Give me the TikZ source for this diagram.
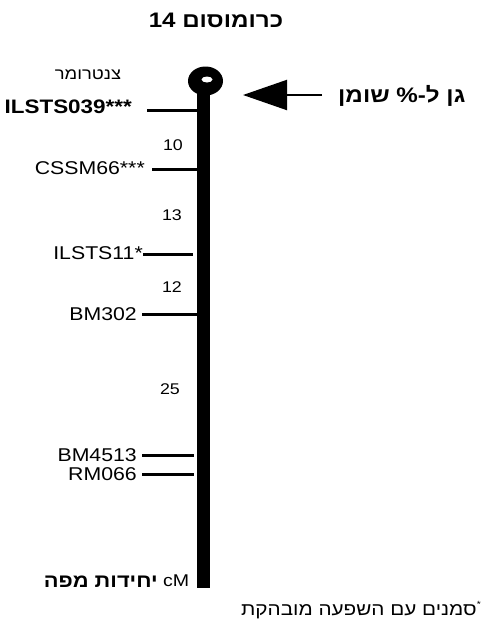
\documentclass[tikz,border=0pt]{standalone}
\usepackage{fontspec}
\setmainfont{Liberation Sans}[FakeStretch=1.15]
\newfontfamily\hebfont{Liberation Sans}[Script=Hebrew,FakeStretch=1.15]
\TeXXeTstate=1
\usetikzlibrary{arrows.meta}

\newcommand\fsz[1]{\fontsize{#1}{#1}\selectfont}

\tikzset{
  marker/.style={anchor=east, inner sep=0pt, font=\fsz{18.5}},
  dist/.style={inner sep=0pt, font=\fsz{15.5}},
  tick/.style={line width=3pt},
  hebtext/.style={inner sep=0pt, font=\hebfont\fsz{#1}},
  hebbold/.style={inner sep=0pt, font=\hebfont\bfseries\fsz{#1}},
}

\begin{document}
\begin{tikzpicture}[x=1pt, y=-1pt]
  \useasboundingbox (0,0) rectangle (485,627);
  \fill[white] (0,0) rectangle (485,627);

  % title
  \node[hebbold=21] (title) at (216,20) {\beginR כרומוסום \beginL 14\endL\endR};

  % chromosome body and centromere knob
  \node[fill=black, anchor=north, minimum width=13pt, minimum height=503pt, inner sep=0pt] (chrom) at (203.5,85) {};
  \fill (205.5,81) ellipse [x radius=17.5, y radius=14.5];
  \fill[white] (207,79.5) ellipse [x radius=5.5, y radius=3];

  % centromere label
  \node[hebtext=16] (centro) at (88,75) {\beginR צנטרומר\endR};

  % marker labels
  \node[marker, font=\bfseries\fsz{19.5}] (m1) at (132,107) {ILSTS039***};
  \node[marker] (m2) at (145,168) {CSSM66***};
  \node[marker] (m3) at (143,253) {ILSTS11*};
  \node[marker] (m4) at (137,314) {BM302};
  \node[marker] (m5) at (137,455) {BM4513};
  \node[marker] (m6) at (137,474) {RM066};

  % interval distances
  \node[dist] (d1) at (173,145) {10};
  \node[dist] (d2) at (172,215) {13};
  \node[dist] (d3) at (172,287) {12};
  \node[dist] (d4) at (170,389) {25};

  % tick end points
  \coordinate (t1a) at (147,110); \coordinate (t1b) at (199,110);
  \coordinate (t2a) at (152,169); \coordinate (t2b) at (199,169);
  \coordinate (t3a) at (143,254); \coordinate (t3b) at (193,254);
  \coordinate (t4a) at (142,314); \coordinate (t4b) at (199,314);
  \coordinate (t5a) at (142,455); \coordinate (t5b) at (194,455);
  \coordinate (t6a) at (142,474); \coordinate (t6b) at (194,474);
  \foreach \i in {1,...,6} { \draw[tick] (t\i a) -- (t\i b); }

  % gene arrow
  \coordinate (atail) at (322,95);
  \coordinate (ahead) at (243,95);
  \draw[line width=2pt, -{Triangle[length=44pt,width=30pt]}] (atail) -- (ahead);
  \node[hebbold=21, anchor=west] (gene) at (338,96) {\beginR גן ל-\% שומן\endR};

  % map units
  \node[hebbold=19, anchor=east] (units) at (158,582) {\beginR יחידות מפה\endR};
  \node[inner sep=0pt, anchor=west, font=\fsz{17}] (cm) at (163,581) {cM};

  % footnote
  \node[hebtext=18, anchor=east] (note) at (481,610) {\beginR\raisebox{0.4em}{\fsz{9}*}סמנים עם השפעה מובהקת\endR};
\end{tikzpicture}
\end{document}
